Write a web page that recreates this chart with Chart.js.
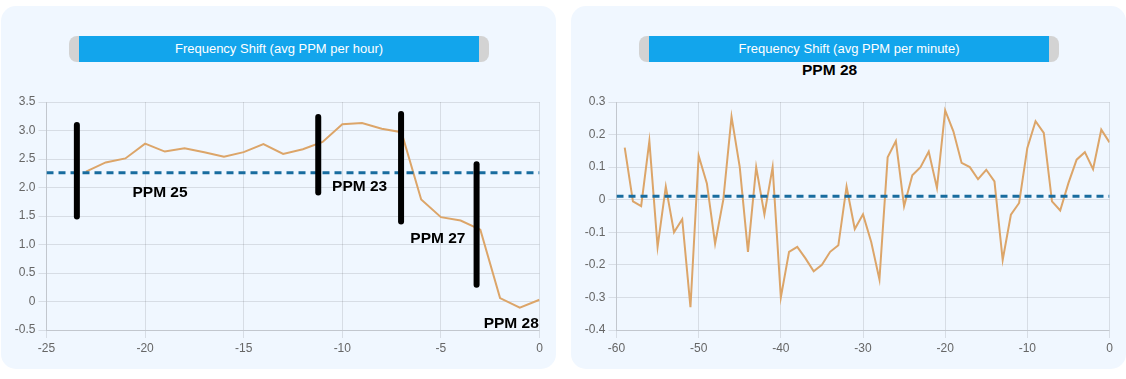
<!DOCTYPE html>
<html>
<head>
<meta charset="utf-8">
<script src="https://cdn.jsdelivr.net/npm/chart.js@4.4.1/dist/chart.umd.min.js"></script>
<style>
html,body{margin:0;padding:0;background:#fff;width:1126px;height:379px;overflow:hidden;font-family:Arial,"Liberation Sans",sans-serif;}
.card{position:absolute;top:6px;height:363px;background:#f0f7ff;border-radius:15px;}
.banner{position:absolute;top:36px;width:420px;height:26px;background:#d3d3d3;border-radius:8px;}
.banner span{position:absolute;left:10px;top:0;width:400px;height:26px;background:#12a5ec;color:#fff;font-size:13px;line-height:26px;text-align:center;white-space:nowrap;}
.sub{position:absolute;font-weight:bold;font-size:15.5px;line-height:18px;color:#000;white-space:nowrap;}
canvas{position:absolute;top:0;}
</style>
</head>
<body>
<div class="card" style="left:1px;width:555px;"></div>
<div class="card" style="left:571px;width:555px;"></div>
<div class="banner" style="left:69px;"><span>Frequency Shift (avg PPM per hour)</span></div>
<div class="banner" style="left:639px;"><span>Frequency Shift (avg PPM per minute)</span></div>
<div class="sub" style="left:802px;top:61px;">PPM 28</div>
<canvas id="hour" width="563" height="379" style="left:0px;"></canvas>
<canvas id="minute" width="556" height="379" style="left:570px;"></canvas>
<script>
// ---- Hourly chart data ----
const hourX = [-23,-22,-21,-20,-19,-18,-17,-16,-15,-14,-13,-12,-11,-10,-9,-8,-7,-6,-5,-4,-3,-2,-1,0];
const hourPPM = [2.28,2.44,2.51,2.77,2.63,2.69,2.62,2.54,2.62,2.76,2.59,2.67,2.80,3.11,3.13,3.03,2.97,1.79,1.48,1.42,1.26,0.06,-0.11,0.03];
const hourAvg = 2.26;
const hourXRange = [-25, 0];
const hourYRange = [-0.5, 3.5];

// PPM change markers on the hourly chart
const markerX = [-23.46, -11.22, -7.02, -3.19];
const markerTop = [3.15, 3.29, 3.34, 2.46];
const markerBottom = [1.44, 1.86, 1.35, 0.24];
const markerLabels = ['PPM 25', 'PPM 23', 'PPM 27', 'PPM 28'];
const markerLabelX = [-20.64, -10.52, -6.55, -2.83];
const markerLabelY = [1.84, 1.93, 1.03, -0.46];

// ---- Minute chart data ----
const minuteX = [-59,-58,-57,-56,-55,-54,-53,-52,-51,-50,-49,-48,-47,-46,-45,-44,-43,-42,-41,-40,
  -39,-38,-37,-36,-35,-34,-33,-32,-31,-30,-29,-28,-27,-26,-25,-24,-23,-22,-21,-20,
  -19,-18,-17,-16,-15,-14,-13,-12,-11,-10,-9,-8,-7,-6,-5,-4,-3,-2,-1,0];
const minutePPM = [0.16,-0.005,-0.02,0.18,-0.145,0.04,-0.10,-0.06,-0.33,0.135,0.05,-0.135,0.0,0.255,0.10,-0.16,0.10,-0.045,0.10,-0.30,
  -0.16,-0.145,-0.18,-0.22,-0.20,-0.16,-0.14,0.04,-0.09,-0.045,-0.13,-0.245,0.13,0.18,-0.02,0.075,0.10,0.148,0.036,0.274,
  0.21,0.113,0.10,0.063,0.092,0.056,-0.185,-0.046,-0.01,0.159,0.241,0.205,-0.005,-0.033,0.051,0.123,0.146,0.094,0.215,0.176];
const minuteAvg = 0.011;
const minuteXRange = [-60, 0];
const minuteYRange = [-0.4, 0.3];

const LINE_COLOR = '#dca569';
const AVG_COLOR = '#186c9f';
const FONT_FAMILY = 'Arial, "Liberation Sans", sans-serif';

Chart.defaults.font.family = FONT_FAMILY;
Chart.defaults.font.size = 12;
Chart.defaults.color = '#666';

function fmtTick(v) {
  const r = Math.round(v * 1000) / 1000;
  if (r === 0) return '0';
  return r.toFixed(1);
}
function fmtInt(v) {
  const r = Math.round(v);
  return r === 0 ? '0' : String(r);
}

const markerPlugin = {
  id: 'markers',
  afterDatasetsDraw(chart, args, opts) {
    if (!opts || !opts.enabled) return;
    const ctx = chart.ctx, xs = chart.scales.x, ys = chart.scales.y;
    ctx.save();
    ctx.strokeStyle = '#000';
    ctx.lineWidth = 6;
    ctx.lineCap = 'round';
    for (let i = 0; i < markerX.length; i++) {
      const px = xs.getPixelForValue(markerX[i]);
      const y1 = ys.getPixelForValue(markerTop[i]) + 3;
      const y2 = ys.getPixelForValue(markerBottom[i]) - 3;
      ctx.beginPath();
      ctx.moveTo(px, y1);
      ctx.lineTo(px, y2);
      ctx.stroke();
    }
    ctx.fillStyle = '#000';
    ctx.font = 'bold 15.5px ' + FONT_FAMILY;
    ctx.textAlign = 'left';
    ctx.textBaseline = 'alphabetic';
    for (let i = 0; i < markerLabels.length; i++) {
      ctx.fillText(markerLabels[i], xs.getPixelForValue(markerLabelX[i]), ys.getPixelForValue(markerLabelY[i]));
    }
    ctx.restore();
  }
};

function makeChart(id, xs, ys, avg, xr, yr, xStep, yStep, rightPad, withMarkers) {
  const pts = xs.map((x, i) => ({x: x, y: ys[i]}));
  return new Chart(document.getElementById(id), {
    type: 'line',
    data: {
      datasets: [
        {
          data: [{x: xr[0], y: avg}, {x: xr[1], y: avg}],
          borderColor: AVG_COLOR,
          borderWidth: 3,
          borderDash: [7, 5],
          pointRadius: 0,
          fill: false,
          tension: 0
        },
        {
          data: pts,
          borderColor: LINE_COLOR,
          borderWidth: 2,
          pointRadius: 0,
          fill: false,
          tension: 0
        }
      ]
    },
    options: {
      responsive: false,
      animation: false,
      devicePixelRatio: 1,
      layout: {padding: {left: 0, right: rightPad, top: 102, bottom: 19}},
      plugins: {
        legend: {display: false},
        title: {display: false},
        tooltip: {enabled: false},
        markers: {enabled: withMarkers}
      },
      scales: {
        x: {
          type: 'linear',
          min: xr[0], max: xr[1],
          ticks: {stepSize: xStep, callback: fmtInt},
          afterFit(s) { s.height = 30; }
        },
        y: {
          type: 'linear',
          min: yr[0], max: yr[1],
          ticks: {stepSize: yStep, callback: fmtTick},
          afterFit(s) { s.width = 46.5; }
        }
      }
    },
    plugins: [markerPlugin]
  });
}

makeChart('hour', hourX, hourPPM, hourAvg, hourXRange, hourYRange, 5, 0.5, 23.5, true);
makeChart('minute', minuteX, minutePPM, minuteAvg, minuteXRange, minuteYRange, 10, 0.1, 16.5, false);
</script>
</body>
</html>
